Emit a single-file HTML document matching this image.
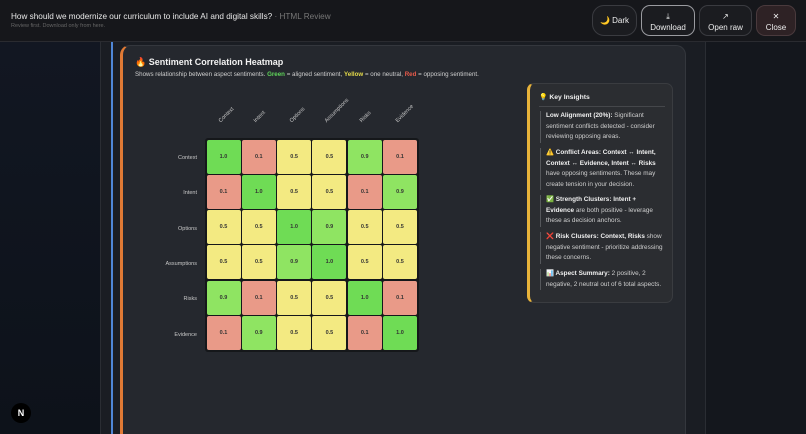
<!DOCTYPE html>
<html><head><meta charset="utf-8"><style>
*{margin:0;padding:0;box-sizing:border-box}
html,body{width:806px;height:434px;overflow:hidden}
body{background:#0f141c;font-family:"Liberation Sans",sans-serif;position:relative;color:#e6e6e6}
.bgL{position:absolute;left:0;top:42px;width:100px;height:392px;background:linear-gradient(180deg,#121722,#0d121a)}
.col{position:absolute;left:100px;top:42px;width:606px;height:392px;background:#1a1d23;border-left:1px solid #2a2d33;border-right:1px solid #2a2d33}
.bgR{position:absolute;left:706px;top:42px;width:100px;height:392px;background:#14171d}
.hdr{position:absolute;left:0;top:0;width:806px;height:42px;background:#16171b;border-bottom:1px solid #2a2b30}
.t1{position:absolute;left:11px;top:12px;font-size:8.2px;color:#e8e8e8}
.t1 span{color:#777}
.t2{position:absolute;left:11px;top:23px;font-size:5.5px;color:#666}
.btn{position:absolute;top:5px;height:31px;border:1px solid #3a3b40;border-radius:9px;font-size:8px;color:#eee;text-align:center;background:#1b1c20}
.blue{position:absolute;left:111px;top:42px;width:2px;height:392px;background:#4f86d6}
.card{position:absolute;left:120px;top:45px;width:566px;height:389px;background:#25282e;border:1px solid #34373d;border-left:3px solid #e07a35;border-bottom:none;border-radius:10px 10px 0 0}
.h{position:absolute;left:135px;top:57px;font-size:9px;font-weight:bold;color:#f2f2f2}
.sub{position:absolute;left:135px;top:70px;font-size:6.2px;color:#cfcfcf}
.cell{position:absolute;width:34px;height:34px;border-radius:2px;font-size:5.5px;font-weight:bold;color:#333;display:flex;align-items:center;justify-content:center}
.grid{position:absolute;left:205px;top:138px;width:214px;height:214px;background:#15171a;border-radius:3px}
.rl{position:absolute;font-size:5.5px;color:#c8c8c8;text-align:right;width:60px;left:137px}
.cl{position:absolute;font-size:5.5px;color:#c8c8c8;transform:rotate(-45deg);transform-origin:left bottom;white-space:nowrap}
.ins{position:absolute;left:527px;top:83px;width:146px;height:220px;background:#2b2d31;border:1px solid #3a3c40;border-left:3px solid #e8b33a;border-radius:7px}
.ins .ti{position:absolute;left:9px;top:9px;font-size:6.8px;font-weight:bold;color:#eee}
.ins .ln{position:absolute;left:9px;top:22px;width:126px;height:1px;background:#45474b}
.it{position:absolute;left:10px;width:124px;border-left:1px solid #55575b;padding-left:5px;font-size:6.4px;line-height:10.5px;color:#cfcfcf}
.it b{color:#f0f0f0}
.n{position:absolute;left:11px;top:403px;width:20px;height:20px;border-radius:50%;background:#000;color:#fff;font-size:9px;font-weight:bold;text-align:center;line-height:20px}
</style></head><body>
<div class="bgL"></div><div class="col"></div><div class="bgR"></div>
<div class="hdr">
<div class="t1">How should we modernize our curriculum to include AI and digital skills? <span>· HTML Review</span></div>
<div class="t2">Review first. Download only from here.</div>
<div class="btn" style="left:592px;width:45px;line-height:29px;border-radius:12px">🌙 Dark</div>
<div class="btn" style="left:641px;width:54px;border-color:#9a9ba0;padding-top:5px;line-height:11px">⤓<br>Download</div>
<div class="btn" style="left:699px;width:53px;padding-top:5px;line-height:11px">↗<br>Open raw</div>
<div class="btn" style="left:756px;width:40px;background:#2e2225;border-color:#4a3a3d;padding-top:5px;line-height:11px">✕<br>Close</div>
</div>
<div class="blue"></div>
<div class="card"></div>
<div class="h">🔥 Sentiment Correlation Heatmap</div>
<div class="sub" style="top:71px">Shows relationship between aspect sentiments. <b style="color:#5fd35a">Green</b> = aligned sentiment, <b style="color:#e6dc4a">Yellow</b> = one neutral, <b style="color:#e85a4a">Red</b> = opposing sentiment.</div>
<div class="grid"></div>
<div id="cells"></div>
<div class="ins">
<div class="ti">💡 Key Insights</div><div class="ln"></div>
<div class="it" style="top:27px"><b>Low Alignment (20%):</b> Significant sentiment conflicts detected - consider reviewing opposing areas.</div>
<div class="it" style="top:64px"><b>⚠️ Conflict Areas: Context ↔ Intent, Context ↔ Evidence, Intent ↔ Risks</b> have opposing sentiments. These may create tension in your decision.</div>
<div class="it" style="top:111px"><b>✅ Strength Clusters: Intent + Evidence</b> are both positive - leverage these as decision anchors.</div>
<div class="it" style="top:148px"><b>❌ Risk Clusters: Context, Risks</b> show negative sentiment - prioritize addressing these concerns.</div>
<div class="it" style="top:185px"><b>📊 Aspect Summary:</b> 2 positive, 2 negative, 2 neutral out of 6 total aspects.</div>
</div>
<div class="n">N</div>
<script>
var L=["Context","Intent","Options","Assumptions","Risks","Evidence"];
var M=[[1,.1,.5,.5,.9,.1],[.1,1,.5,.5,.1,.9],[.5,.5,1,.9,.5,.5],[.5,.5,.9,1,.5,.5],[.9,.1,.5,.5,1,.1],[.1,.9,.5,.5,.1,1]];
var h="";
for(var r=0;r<6;r++){
 h+='<div class="rl" style="top:'+(155+r*35.3)+'px">'+L[r]+'</div>';
 h+='<div class="cl" style="left:'+(222+r*35.3)+'px;top:118px">'+L[r]+'</div>';
 for(var c=0;c<6;c++){var v=M[r][c];
  var col=v==1?"#6fdc55":v==.9?"#8fe462":v==.5?"#f3ea82":"#e99a88";
  h+='<div class="cell" style="left:'+(206.5+c*35.3)+'px;top:'+(139.5+r*35.3)+'px;background:'+col+'">'+v.toFixed(1)+'</div>';}
}
document.getElementById("cells").innerHTML=h;
</script>
</body></html>
